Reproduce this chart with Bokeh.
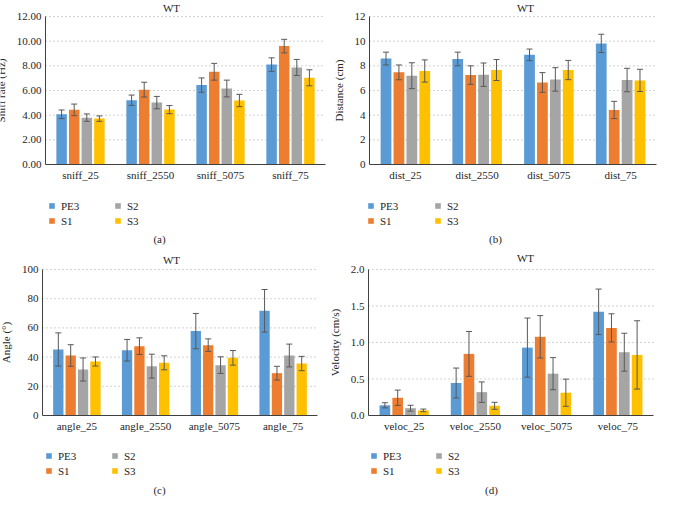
from bokeh.plotting import figure
from bokeh.models import (ColumnDataSource, Legend, LegendItem, Label, LinearAxis,
                          FixedTicker, NumeralTickFormatter, Range1d)
from bokeh.embed import file_html
from bokeh.resources import INLINE

series = ["PE3", "S1", "S2", "S3"]
colors = ["#5B9BD5", "#ED7D31", "#A5A5A5", "#FFC000"]

sniff_cats = ["sniff_25", "sniff_2550", "sniff_5075", "sniff_75"]
sniff_mean = {
    "PE3": [4.07, 5.21, 6.44, 8.10],
    "S1":  [4.43, 6.07, 7.52, 9.60],
    "S2":  [3.80, 5.02, 6.16, 7.87],
    "S3":  [3.72, 4.45, 5.19, 7.03],
}
sniff_err = {
    "PE3": [0.35, 0.42, 0.58, 0.55],
    "S1":  [0.47, 0.60, 0.68, 0.55],
    "S2":  [0.30, 0.50, 0.68, 0.65],
    "S3":  [0.22, 0.33, 0.50, 0.65],
}

dist_cats = ["dist_25", "dist_2550", "dist_5075", "dist_75"]
dist_mean = {
    "PE3": [8.59, 8.56, 8.89, 9.82],
    "S1":  [7.47, 7.25, 6.65, 4.42],
    "S2":  [7.20, 7.28, 6.90, 6.85],
    "S3":  [7.58, 7.66, 7.66, 6.82],
}
dist_err = {
    "PE3": [0.52, 0.55, 0.47, 0.74],
    "S1":  [0.60, 0.75, 0.80, 0.70],
    "S2":  [1.05, 0.95, 0.95, 0.95],
    "S3":  [0.90, 0.85, 0.78, 0.90],
}

angle_cats = ["angle_25", "angle_2550", "angle_5075", "angle_75"]
angle_mean = {
    "PE3": [45.2, 44.7, 57.8, 71.7],
    "S1":  [41.1, 47.5, 48.2, 29.0],
    "S2":  [31.5, 33.8, 34.5, 41.1],
    "S3":  [37.0, 36.1, 39.5, 35.6],
}
angle_err = {
    "PE3": [11.4, 7.4, 12.1, 14.6],
    "S1":  [7.4, 5.7, 4.3, 4.7],
    "S2":  [7.9, 8.2, 5.7, 7.8],
    "S3":  [3.1, 4.8, 5.0, 4.9],
}

veloc_cats = ["veloc_25", "veloc_2550", "veloc_5075", "veloc_75"]
veloc_mean = {
    "PE3": [0.14, 0.445, 0.93, 1.42],
    "S1":  [0.243, 0.844, 1.078, 1.20],
    "S2":  [0.10, 0.32, 0.573, 0.867],
    "S3":  [0.07, 0.133, 0.312, 0.83],
}
veloc_err = {
    "PE3": [0.035, 0.205, 0.405, 0.312],
    "S1":  [0.105, 0.307, 0.29, 0.193],
    "S2":  [0.04, 0.14, 0.22, 0.26],
    "S3":  [0.018, 0.048, 0.186, 0.468],
}

FONT = "Liberation Serif"
TXT = "#262626"
ERR = "#595959"
FS = "11px"
offsets = [-0.27, -0.09, 0.09, 0.27]
W, H = 657, 503

# layout of the four panels (pixel boxes of each data area, title/caption/legend spots)
panels = [
    dict(cats=sniff_cats, mean=sniff_mean, err=sniff_err, ylabel="Sniff rate (Hz)",
         ymax=12, ystep=2, fmt="0.00", caption="(a)",
         box=(45, 325, 16, 164), title=(171, 7), cap=(159, 238),
         legA=(48, 228), legB=(114, 228)),
    dict(cats=dist_cats, mean=dist_mean, err=dist_err, ylabel="Distance (cm)",
         ymax=12, ystep=2, fmt="0", caption="(b)",
         box=(369, 656, 16, 164), title=(525, 7), cap=(495, 238),
         legA=(367, 228), legB=(434, 228)),
    dict(cats=angle_cats, mean=angle_mean, err=angle_err, ylabel="Angle (°)",
         ymax=100, ystep=20, fmt="0", caption="(c)",
         box=(42, 317, 269, 415), title=(171, 259), cap=(159, 489),
         legA=(45, 478), legB=(111, 478)),
    dict(cats=veloc_cats, mean=veloc_mean, err=veloc_err, ylabel="Velocity (cm/s)",
         ymax=2.0, ystep=0.5, fmt="0.0", caption="(d)",
         box=(368, 653, 269, 415), title=(525, 257), cap=(491, 489),
         legA=(370, 478), legB=(435, 478)),
]

p = figure(width=W, height=H, x_range=Range1d(0, W), y_range=Range1d(0, H),
           x_axis_type=None, y_axis_type=None, output_backend="svg",
           toolbar_location=None, min_border=0)
p.outline_line_color = None

xranges, yranges, maps = {}, {}, []
for k, pn in enumerate(panels):
    n = len(pn["cats"])
    l, r, t, b = pn["box"]
    sx = n / (r - l)
    x0 = -l * sx
    sy = pn["ymax"] / (b - t)
    y0 = -(H - b) * sy
    xranges["x%d" % k] = Range1d(x0, x0 + W * sx)
    yranges["y%d" % k] = Range1d(y0, y0 + H * sy)
    maps.append((x0, sx, y0, sy))
p.extra_x_ranges = xranges
p.extra_y_ranges = yranges


def to_data(k, px, py):
    x0, sx, y0, sy = maps[k]
    return x0 + px * sx, y0 + (H - py) * sy


for k, pn in enumerate(panels):
    xn, yn = "x%d" % k, "y%d" % k
    cats, ymax, ystep = pn["cats"], pn["ymax"], pn["ystep"]
    n = len(cats)
    centers = [i + 0.5 for i in range(n)]

    yticks = []
    tv = 0.0
    while tv <= ymax + 1e-9:
        yticks.append(round(tv, 6))
        tv += ystep

    gsrc = ColumnDataSource(dict(x0=[0] * (len(yticks) - 1), x1=[n] * (len(yticks) - 1),
                                 y=yticks[1:]))
    p.segment(x0="x0", y0="y", x1="x1", y1="y", source=gsrc, x_range_name=xn,
              y_range_name=yn, line_color="#a6a6a6", line_dash="1 3", line_width=1)

    rends = []
    for s, c, off in zip(series, colors, offsets):
        src = ColumnDataSource(dict(x=[cx + off for cx in centers], val=pn["mean"][s],
                                    lo=[m - e for m, e in zip(pn["mean"][s], pn["err"][s])],
                                    hi=[m + e for m, e in zip(pn["mean"][s], pn["err"][s])]))
        rr = p.vbar(x="x", top="val", width=0.15, source=src, fill_color=c,
                    line_color=None, x_range_name=xn, y_range_name=yn)
        p.segment(x0="x", y0="lo", x1="x", y1="hi", source=src, line_color=ERR,
                  line_width=1, x_range_name=xn, y_range_name=yn)
        p.scatter(x="x", y="hi", source=src, marker="dash", size=6, line_color=ERR,
                  line_width=1, x_range_name=xn, y_range_name=yn)
        p.scatter(x="x", y="lo", source=src, marker="dash", size=6, line_color=ERR,
                  line_width=1, x_range_name=xn, y_range_name=yn)
        rends.append(rr)

    xa = LinearAxis(x_range_name=xn, y_range_name=yn, fixed_location=0, bounds=(0, n),
                    ticker=FixedTicker(ticks=centers),
                    major_label_overrides={cx: lab for cx, lab in zip(centers, cats)})
    ya = LinearAxis(x_range_name=xn, y_range_name=yn, fixed_location=0, bounds=(0, ymax),
                    ticker=FixedTicker(ticks=yticks),
                    formatter=NumeralTickFormatter(format=pn["fmt"]),
                    axis_label=pn["ylabel"])
    for ax in (xa, ya):
        ax.major_label_text_font = FONT
        ax.major_label_text_font_size = FS
        ax.major_label_text_color = TXT
        ax.major_tick_line_color = None
        ax.minor_tick_line_color = None
        ax.major_tick_out = 0
        ax.axis_line_color = "#404040"
        ax.axis_line_width = 1
        ax.major_label_standoff = 4
    ya.axis_label_text_font = FONT
    ya.axis_label_text_font_size = FS
    ya.axis_label_text_font_style = "normal"
    ya.axis_label_text_color = TXT
    ya.axis_label_standoff = 7
    p.add_layout(xa, "below")
    p.add_layout(ya, "left")

    tx, ty = to_data(k, *pn["title"])
    p.add_layout(Label(x=tx, y=ty, x_range_name=xn, y_range_name=yn, text="WT",
                       text_align="center", text_baseline="middle", text_font=FONT,
                       text_font_size=FS, text_color=TXT))
    cx_, cy_ = to_data(k, *pn["cap"])
    p.add_layout(Label(x=cx_, y=cy_, x_range_name=xn, y_range_name=yn,
                       text=pn["caption"], text_align="center", text_baseline="middle",
                       text_font=FONT, text_font_size=FS, text_color=TXT))

    for key, idx in (("legA", [0, 1]), ("legB", [2, 3])):
        lx, lb = pn[key]
        items = [LegendItem(label=series[i], renderers=[rends[i]]) for i in idx]
        leg = Legend(items=items, orientation="vertical", location=(lx, H - lb),
                     margin=0, padding=0, spacing=0, glyph_width=7, glyph_height=7,
                     label_standoff=6, label_height=15,
                     label_text_font=FONT, label_text_font_size=FS,
                     label_text_color=TXT, border_line_color=None,
                     background_fill_alpha=0)
        p.add_layout(leg)

open("out.html", "w").write(file_html(p, INLINE))
